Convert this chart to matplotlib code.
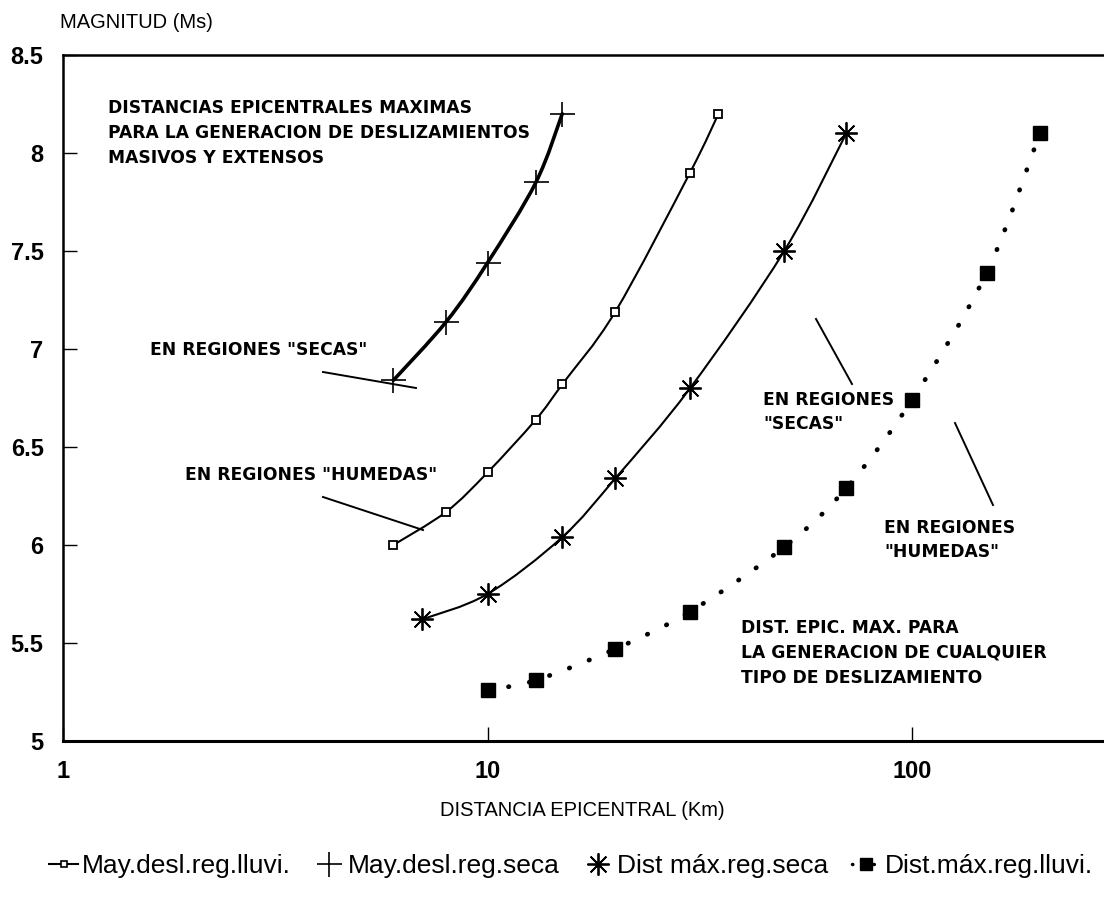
import numpy as np
import matplotlib
matplotlib.use("Agg")
import matplotlib.pyplot as plt
from matplotlib.path import Path
from matplotlib.patches import PathPatch
from matplotlib.lines import Line2D

plt.rcParams['font.family'] = ['Liberation Sans', 'DejaVu Sans']

# distancia epicentral (km) y magnitud (Ms) de cada curva
dist_lluvi = [6, 8, 10, 13, 15, 20, 30, 35]
mag_lluvi = [6.0, 6.17, 6.37, 6.64, 6.82, 7.19, 7.9, 8.2]

dist_seca = [6, 8, 10, 13, 15]
mag_seca = [6.84, 7.14, 7.44, 7.85, 8.2]

dist_max_seca = [7, 10, 15, 20, 30, 50, 70]
mag_max_seca = [5.62, 5.75, 6.04, 6.34, 6.8, 7.5, 8.1]

dist_max_lluvi = [10, 13, 20, 30, 50, 70, 100, 150, 200]
mag_max_lluvi = [5.26, 5.31, 5.47, 5.66, 5.99, 6.29, 6.74, 7.39, 8.1]

y_ticks = [5, 5.5, 6, 6.5, 7, 7.5, 8, 8.5]
y_labels = ['5', '5.5', '6', '6.5', '7', '7.5', '8', '8.5']
x_ticks = [1, 10, 100]
x_labels = ['1', '10', '100']

legend_names = ['May.desl.reg.lluvi.', 'May.desl.reg.seca',
                'Dist máx.reg.seca', 'Dist.máx.reg.lluvi.']

W, H = 1104, 899


def smooth_path(xs, ys):
    # Catmull-Rom curve through the points, built in (log10 x, y) space
    lx = np.log10(xs)
    y = np.asarray(ys, float)
    n = len(lx)
    verts = [(xs[0], y[0])]
    codes = [Path.MOVETO]
    for i in range(n - 1):
        p0 = max(i - 1, 0)
        p3 = min(i + 2, n - 1)
        c1x = lx[i] + (lx[i + 1] - lx[p0]) / 6
        c1y = y[i] + (y[i + 1] - y[p0]) / 6
        c2x = lx[i + 1] - (lx[p3] - lx[i]) / 6
        c2y = y[i + 1] - (y[p3] - y[i]) / 6
        verts += [(10 ** c1x, c1y), (10 ** c2x, c2y), (xs[i + 1], y[i + 1])]
        codes += [Path.CURVE4] * 3
    return Path(verts, codes)


def px(x, y):
    return x / W, 1 - y / H


fig = plt.figure(figsize=(W / 100, H / 100), dpi=100)
ax = fig.add_axes([63 / W, (H - 741) / H, 1 - 63 / W, (741 - 55) / H])

ax.set_xscale('log')
ax.set_xlim(1, 10 ** ((W - 63) / 424.5))
ax.set_ylim(5, 8.5)

curves = [
    (dist_lluvi, mag_lluvi, dict(lw=1.5, ls='-')),
    (dist_seca, mag_seca, dict(lw=2.6, ls='-')),
    (dist_max_seca, mag_max_seca, dict(lw=1.5, ls='-')),
    (dist_max_lluvi, mag_max_lluvi, dict(lw=3.4, ls=(0, (0.1, 4.4)))),
]
for xs, ys, st in curves:
    patch = PathPatch(smooth_path(xs, ys), fill=False, edgecolor='black',
                      linewidth=st['lw'], linestyle=st['ls'], capstyle='round')
    ax.add_patch(patch)

ast = (8, 2, 0)
ax.plot(dist_lluvi, mag_lluvi, ls='none', marker='s', ms=5.5, mfc='white',
        mec='black', mew=1.3)
ax.plot(dist_seca, mag_seca, ls='none', marker='+', ms=18, mec='black', mew=1.2)
ax.plot(dist_max_seca, mag_max_seca, ls='none', marker=ast, ms=16, mec='black',
        mew=1.3)
ax.plot(dist_max_lluvi, mag_max_lluvi, ls='none', marker='s', ms=10.5,
        mfc='black', mec='black')

ax.set_xticks(x_ticks)
ax.set_xticklabels(x_labels)
ax.xaxis.set_minor_locator(matplotlib.ticker.NullLocator())
ax.set_yticks(y_ticks)
ax.set_yticklabels(y_labels)
ax.tick_params(direction='in', length=10, width=1, color='black')
ax.tick_params(axis='x', pad=14, labelsize=17)
ax.tick_params(axis='y', pad=14, labelsize=17)
for lab in ax.get_xticklabels() + ax.get_yticklabels():
    lab.set_fontweight('bold')
ax.spines['right'].set_visible(False)
ax.spines['bottom'].set_linewidth(2.2)
ax.spines['left'].set_linewidth(1.8)
ax.spines['top'].set_linewidth(1.8)

fig.text(*px(60, 22), 'MAGNITUD (Ms)', fontsize=14.5, va='center', ha='left')
fig.text(*px(582, 810), 'DISTANCIA EPICENTRAL (Km)', fontsize=14.5,
         va='center', ha='center')

bold = dict(fontsize=12.3, fontweight='bold', va='center', ha='left',
            family='DejaVu Sans')
fig.text(*px(108, 133), 'DISTANCIAS EPICENTRALES MAXIMAS\n'
         'PARA LA GENERACION DE DESLIZAMIENTOS\nMASIVOS Y EXTENSOS',
         linespacing=1.5, **bold)
fig.text(*px(150, 350), 'EN REGIONES "SECAS"', **bold)
fig.text(*px(185, 475), 'EN REGIONES "HUMEDAS"', **bold)
fig.text(*px(763, 412), 'EN REGIONES\n"SECAS"', linespacing=1.45, **bold)
fig.text(*px(884, 540), 'EN REGIONES\n"HUMEDAS"', linespacing=1.45, **bold)
fig.text(*px(741, 653), 'DIST. EPIC. MAX. PARA\nLA GENERACION DE CUALQUIER\n'
         'TIPO DE DESLIZAMIENTO', linespacing=1.5, **bold)

# leader lines from the labels to the curves
leaders = [((323, 372), (416, 388)), ((323, 497), (423, 530)),
           ((816, 319), (852, 384)), ((955, 423), (993, 505))]
for (x0, y0), (x1, y1) in leaders:
    a, b = px(x0, y0), px(x1, y1)
    fig.add_artist(Line2D([a[0], b[0]], [a[1], b[1]], color='black', lw=1.4,
                          transform=fig.transFigure))

handles = [
    Line2D([], [], color='black', lw=1.5, marker='s', ms=5, mfc='white',
           mec='black', mew=1.2),
    Line2D([], [], color='black', ls='none', marker='+', ms=18, mew=1.2),
    Line2D([], [], color='black', ls='none', marker=ast, ms=16, mew=1.3),
    Line2D([], [], color='black', lw=2.5, ls=(0, (0.1, 3)), marker='s', ms=9,
           dash_capstyle='round'),
]
fig.legend(handles, legend_names, loc='center', bbox_to_anchor=px(571, 866),
           ncol=4, frameon=False, handlelength=1.1, handletextpad=0.15,
           columnspacing=0.9, borderaxespad=0,
           prop=dict(family=['Liberation Sans'], size=19))

fig.savefig('out.png', dpi=100)
